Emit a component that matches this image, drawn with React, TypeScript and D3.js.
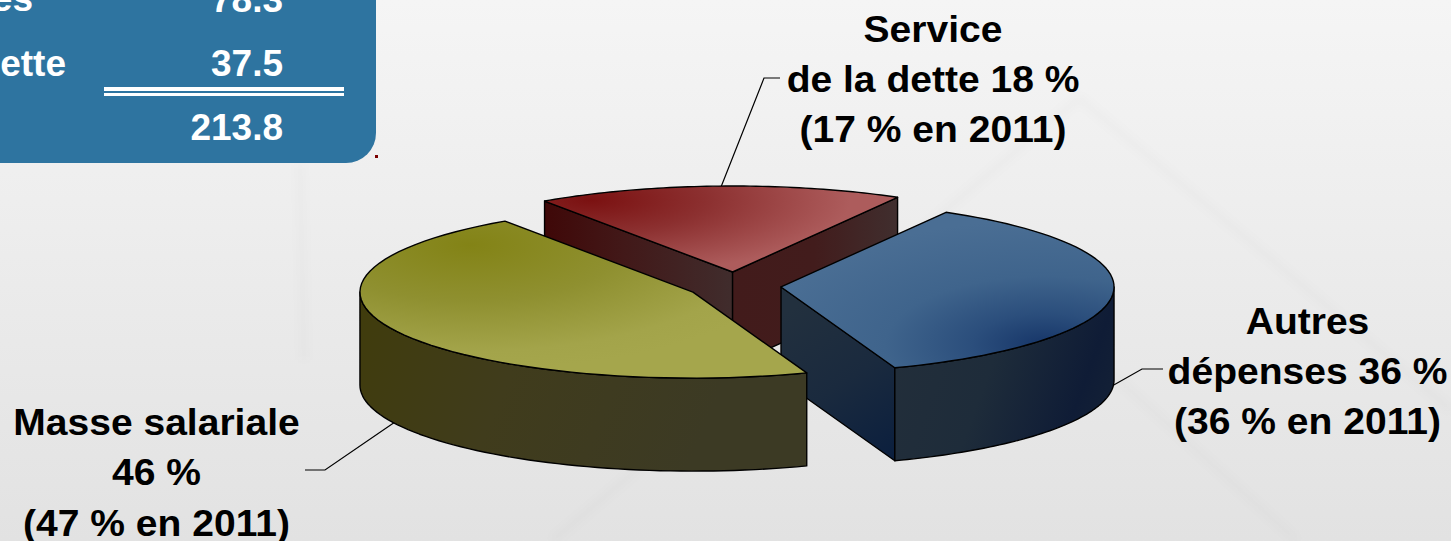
import React from 'react';
import * as d3 from 'd3';

// slices, clockwise from the top right
const categories = ['Autres dépenses', 'Masse salariale', 'Service de la dette'];
const shares = [36.2, 46, 17.8];
const labelLines = [
	['Autres', 'dépenses 36 %', '(36 % en 2011)'],
	['Masse salariale', '46 %', '(47 % en 2011)'],
	['Service', 'de la dette 18 %', '(17 % en 2011)']
];
const tableNames = ['Autres dépenses', 'Service de la dette'];
const tableValues = ['78.3', '37.5'];
const tableTotal = '213.8';

const width = 1451,
	height = 541;
const cx = 734.5,
	cy = 285.8,
	rx = 333,
	ry = 86,
	depth = 93;
const explodeX = 46.7,
	explodeY = 13.8;
const firstAngle = 29.7;
const deg = Math.PI / 180;
const FONT = '"Liberation Sans", Arial, sans-serif';

const labelPos = [
	{ x: 1307.5, y: 334 },
	{ x: 156.5, y: 435 },
	{ x: 933, y: 42 }
];
const lineHeights = [50, 50.5, 50];
const leaders = [
	[ [ 1112, 386 ], [ 1142, 369 ], [ 1163, 369 ] ],
	[ [ 395, 422 ], [ 325, 470 ], [ 305, 470 ] ],
	[ [ 721, 187 ], [ 764, 78 ], [ 780, 78 ] ]
];

const arcs = d3
	.pie<number>()
	.sort(null)
	.startAngle(firstAngle * deg)
	.endAngle((firstAngle + 360) * deg)(shares);

const slices = arcs.map((a, i) => {
	const mid = (a.startAngle + a.endAngle) / 2;
	return {
		i,
		a0: a.startAngle,
		a1: a.endAngle,
		x: cx + explodeX * Math.sin(mid),
		y: cy - explodeY * Math.cos(mid)
	};
});

const linePath = d3.line();

const rim = (s, a0, a1, dy = 0) =>
	d3.range(0, 61).map((k) => {
		const t = a0 + (a1 - a0) * k / 60;
		return [ s.x + rx * Math.sin(t), s.y - ry * Math.cos(t) + dy ];
	});

const topFace = (s) => linePath([ [ s.x, s.y ], ...rim(s, s.a0, s.a1) ]) + 'Z';

// outer wall, only the part of the rim turned to the viewer
const outerWall = (s) => {
	const a0 = Math.max(s.a0, 90 * deg),
		a1 = Math.min(s.a1, 270 * deg);
	if (a1 <= a0) return null;
	return linePath([ ...rim(s, a0, a1), ...rim(s, a0, a1, depth).reverse() ]) + 'Z';
};

const cutWall = (s, a) => {
	const p = rim(s, a, a)[0];
	return (
		linePath([
			[ s.x, s.y ],
			p,
			[ p[0], p[1] + depth ],
			[ s.x, s.y + depth ]
		]) + 'Z'
	);
};

const [ blue, olive, red ] = slices;

const Stops = ({ stops }) => (
	<React.Fragment>
		{stops.map(([ o, c ]) => <stop key={o} offset={o} stopColor={c} />)}
	</React.Fragment>
);

const App = () => {
	const edge = { stroke: '#000', strokeWidth: 1.4, strokeLinejoin: 'round' as const };
	const blueWall = outerWall(blue);
	const oliveWall = outerWall(olive);
	const valueText = { fontFamily: FONT, fontWeight: 700, fontSize: 37, fill: '#fff' };

	return (
		<svg width={width} height={height} style={{ position: 'fixed', left: 0, top: 0, display: 'block' }}>
			<defs>
				<linearGradient id="bg" x1="0" y1="0" x2="0" y2="1">
					<Stops stops={[ [ 0, '#f5f5f5' ], [ 1, '#e2e2e2' ] ]} />
				</linearGradient>
				<filter id="soft" x="-20%" y="-20%" width="140%" height="140%">
					<feGaussianBlur stdDeviation="4" />
				</filter>
				<radialGradient
					id="redTop"
					gradientUnits="userSpaceOnUse"
					cx="0"
					cy="0"
					r="1"
					gradientTransform="translate(590,200) scale(260,75)"
				>
					<Stops stops={[ [ 0, '#7b1111' ], [ 0.45, '#8c3030' ], [ 1, '#ad5c5c' ] ]} />
				</radialGradient>
				<radialGradient
					id="oliveTop"
					gradientUnits="userSpaceOnUse"
					cx="0"
					cy="0"
					r="1"
					gradientTransform="translate(470,245) scale(340,125)"
				>
					<Stops stops={[ [ 0, '#838316' ], [ 0.45, '#8f9030' ], [ 0.85, '#a3a44a' ], [ 1, '#a5a64c' ] ]} />
				</radialGradient>
				<radialGradient
					id="blueTop"
					gradientUnits="userSpaceOnUse"
					cx="0"
					cy="0"
					r="1"
					gradientTransform="translate(1045,345) scale(290,125)"
				>
					<Stops stops={[ [ 0, '#163568' ], [ 0.25, '#2b4e7c' ], [ 0.55, '#3f648c' ], [ 1, '#4a6e94' ] ]} />
				</radialGradient>
				<linearGradient id="redLeft" gradientUnits="userSpaceOnUse" x1="546" y1="0" x2="735" y2="0">
					<Stops stops={[ [ 0, '#3f0808' ], [ 0.4, '#421818' ], [ 1, '#402d2d' ] ]} />
				</linearGradient>
				<linearGradient id="redRight" gradientUnits="userSpaceOnUse" x1="732" y1="0" x2="897" y2="0">
					<Stops stops={[ [ 0, '#421b1b' ], [ 0.5, '#421c1c' ], [ 1, '#402e2e' ] ]} />
				</linearGradient>
				<linearGradient id="oliveWall" gradientUnits="userSpaceOnUse" x1="360" y1="300" x2="700" y2="440">
					<Stops stops={[ [ 0, '#403c0c' ], [ 0.45, '#403c1c' ], [ 1, '#3c3a24' ] ]} />
				</linearGradient>
				<linearGradient id="blueCut" gradientUnits="userSpaceOnUse" x1="790" y1="310" x2="890" y2="460">
					<Stops stops={[ [ 0, '#22303e' ], [ 0.5, '#1a2a3e' ], [ 1, '#0b1f3e' ] ]} />
				</linearGradient>
				<linearGradient id="blueWall" gradientUnits="userSpaceOnUse" x1="894" y1="360" x2="1113" y2="440">
					<Stops stops={[ [ 0, '#222e3a' ], [ 0.4, '#1e2c3a' ], [ 0.8, '#0f1c36' ], [ 1, '#152236' ] ]} />
				</linearGradient>
			</defs>

			<rect width={width} height={height} fill="url(#bg)" />
			{/* faint watermark behind the pie */}
			<g fill="none" stroke="#000" strokeOpacity={0.016} strokeWidth={9} filter="url(#soft)">
				<path d="M1079,98L552,541" />
				<path d="M1079,98L1451,410" />
				<path d="M1111,373L1297,541" />
				<path d="M300,165L304,360" />
			</g>

			{/* table, cut by the left edge of the picture */}
			<path d="M-10,-10H376V133A30,30 0 0 1 346,163H-10Z" fill="#2e74a0" />
			<rect x={375} y={155} width={3} height={3} fill="#7a0000" />
			<rect x={104} y={87} width={240} height={4} fill="#fff" />
			<rect x={104} y={93} width={240} height={3} fill="#fff" />
			{tableNames.map((name, i) => (
				<text key={name} x={i === 0 ? 33 : 66} y={i === 0 ? 11 : 75.5} textAnchor="end" {...valueText}>
					{name}
				</text>
			))}
			{tableValues.map((v, i) => (
				<text key={v} x={283} y={11.5 + i * 64} textAnchor="end" {...valueText}>
					{v}
				</text>
			))}
			<text x={283} y={139.5} textAnchor="end" {...valueText}>
				{tableTotal}
			</text>

			{/* leaders go under the pie */}
			{leaders.map((pts, i) => (
				<path key={categories[i]} d={linePath(pts)} fill="none" stroke="#000" strokeWidth={1.2} />
			))}

			{/* back to front: red, blue, olive */}
			<g {...edge}>
				<path d={cutWall(red, red.a0)} fill="url(#redLeft)" />
				<path d={cutWall(red, red.a1)} fill="url(#redRight)" />
				<path d={topFace(red)} fill="url(#redTop)" />

				<path d={cutWall(blue, blue.a1)} fill="url(#blueCut)" />
				<path d={blueWall} fill="url(#blueWall)" />
				<path d={topFace(blue)} fill="url(#blueTop)" />

				<path d={oliveWall} fill="url(#oliveWall)" />
				<path d={topFace(olive)} fill="url(#oliveTop)" />
			</g>

			{/* the labels are a little wider than the plain font */}
			{labelLines.map((lines, i) => (
				<text
					key={categories[i]}
					transform={`translate(${labelPos[i].x},${labelPos[i].y}) scale(1.055,1)`}
					fontFamily={FONT}
					fontWeight={700}
					fontSize={37}
					fill="#000"
					textAnchor="middle"
				>
					{lines.map((l, k) => (
						<tspan key={l} x={0} y={k * lineHeights[i]}>
							{l}
						</tspan>
					))}
				</text>
			))}
		</svg>
	);
};

export default App;
